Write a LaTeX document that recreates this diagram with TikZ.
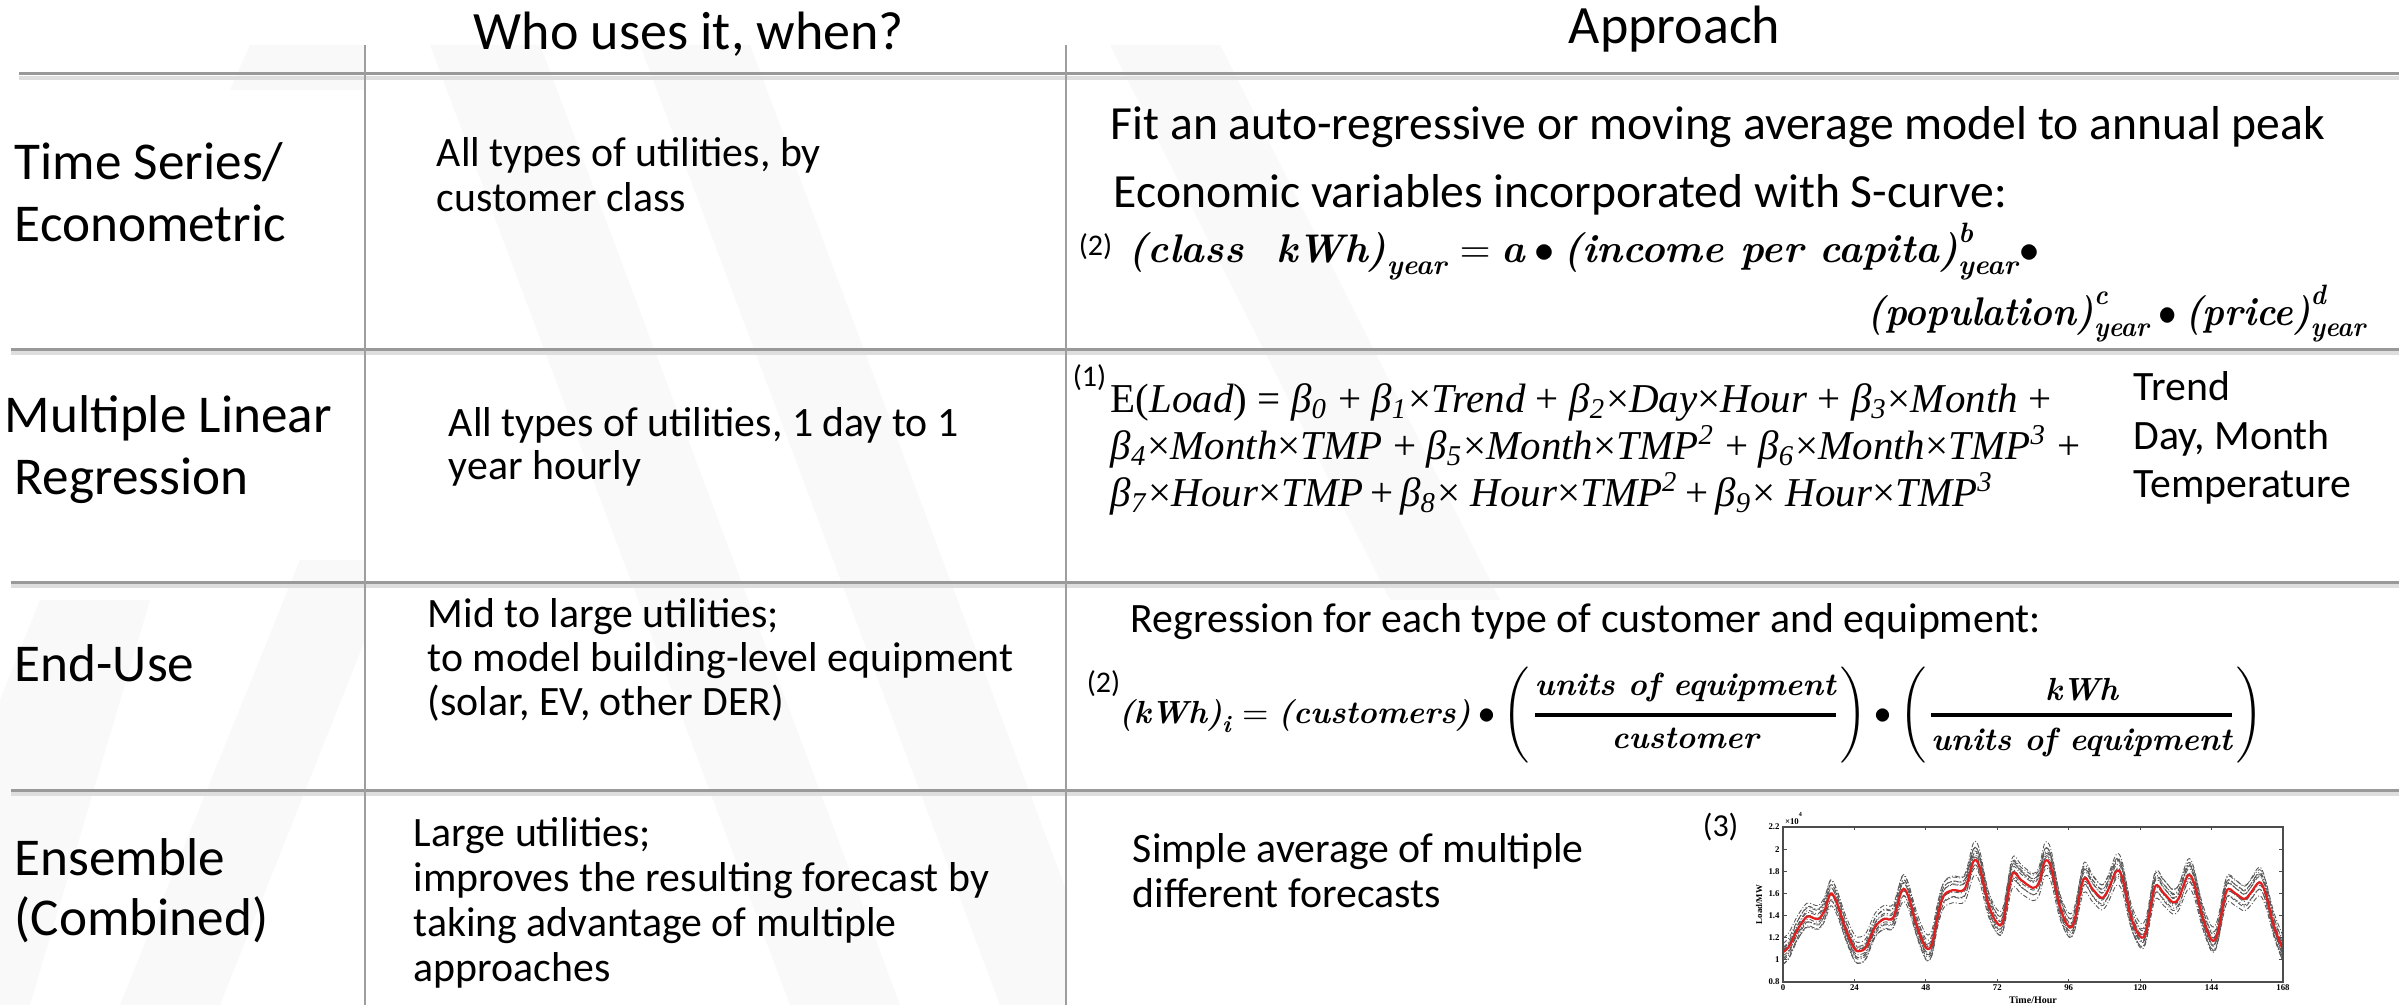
\documentclass[tikz,border=0pt]{standalone}
\usepackage{fontspec}
\usepackage{amsmath}
\newfontfamily\calfont{Carlito}
\newfontfamily\serifmr{Liberation Serif}
\newfontfamily\lmbifont{lmroman10-bolditalic.otf}
\definecolor{loadred}{RGB}{226,30,30}
% bold italic serif used by the scanned-style formulas
\newcommand\fbi[1]{{\lmbifont #1}}
% regression coefficient and power in the load model
\newcommand\bcoef[1]{\textit{β}\textsubscript{\textit{#1}}}
\newcommand\pw[1]{\textsuperscript{\textit{#1}}}
\begin{document}
\begin{tikzpicture}[x=0.25pt,y=-0.25pt,
  hdrtext/.style={font=\calfont\fontsize{13.5}{16}\selectfont, inner sep=0pt, anchor=base west},
  rowlabel/.style={font=\calfont\fontsize{13.3}{16}\selectfont, inner sep=0pt, anchor=base west},
  celltext/.style={font=\calfont\fontsize{10.45}{12.5}\selectfont, inner sep=0pt, anchor=base west},
  apptext/.style={font=\calfont\fontsize{11.9}{14}\selectfont, inner sep=0pt, anchor=base west},
  refmark/.style={font=\calfont\fontsize{7.5}{9}\selectfont, inner sep=0pt, anchor=base west},
  formulaA/.style={font=\fontsize{10}{12}\selectfont, inner sep=0pt, anchor=base west},
  formulaB/.style={font=\serifmr\fontsize{10.25}{12}\selectfont, inner sep=0pt, anchor=base west},
  formulaC/.style={font=\fontsize{8}{10}\selectfont, inner sep=0pt, anchor=base west},
  rowrule/.style={draw=black!40, line width=0.75pt},
  rowshade/.style={draw=black!13, line width=1.1pt},
  colrule/.style={draw=black!38, line width=0.6pt},
  watermark/.style={fill=black!2.5},
  member/.style={draw=black!65, line width=0.22pt, dash pattern=on 1.2pt off 0.5pt on 0.25pt off 0.5pt},
  meanload/.style={draw=loadred, line width=0.55pt},
  chartlabel/.style={font=\serifmr\bfseries\fontsize{2.2}{2.6}\selectfont, inner sep=0.3pt}]

\useasboundingbox (0,0) rectangle (2399,1005);
\fill[white] (0,0) rectangle (2399,1005);

% faint background stripes
\fill[watermark] (430,45) -- (540,45) -- (900,1005) -- (790,1005) -- cycle;
\fill[watermark] (640,45) -- (750,45) -- (1066,890) -- (1066,1005) -- (1000,1005) -- cycle;
\fill[watermark] (1110,45) -- (1220,45) -- (1500,600) -- (1390,600) -- cycle;
\fill[watermark] (0,700) -- (40,600) -- (150,600) -- (30,1005) -- (0,1005) -- cycle;
\fill[watermark] (120,1005) -- (300,560) -- (365,560) -- (365,640) -- (220,1005) -- cycle;
\fill[watermark] (250,45) -- (365,45) -- (365,90) -- (230,90) -- cycle;

% table rules
\foreach \yy/\xs in {74/19, 349/11, 582/11, 790/11} {
  \draw[rowshade] (\xs,\yy+4) -- (2399,\yy+4);
  \draw[rowrule] (\xs,\yy) -- (2399,\yy);
}
\draw[colrule] (365,45) -- (365,1005);
\draw[colrule] (1066,45) -- (1066,1005);

% column headings
\node[hdrtext] (head-who) at (473,50) {Who uses it, when?};
\node[hdrtext] (head-app) at (1568,44) {Approach};

% row labels
\node[rowlabel] (ts-a) at (14,180) {Time Series/};
\node[rowlabel] (ts-b) at (14,242) {Econometric};
\node[rowlabel] (mlr-a) at (4,432) {Multiple Linear};
\node[rowlabel] (mlr-b) at (14,494) {Regression};
\node[rowlabel] (eu-a) at (14,681) {End-Use};
\node[rowlabel] (en-a) at (14,875) {Ensemble};
\node[rowlabel] (en-b) at (14,935) {(Combined)};

% who uses it
\node[celltext] (ts-who-a) at (436,167) {All types of utilities, by};
\node[celltext] (ts-who-b) at (436,211) {customer class};
\node[celltext] (mlr-who-a) at (448,436) {All types of utilities, 1 day to 1};
\node[celltext] (mlr-who-b) at (448,479) {year hourly};
\node[celltext] (eu-who-a) at (427,627) {Mid to large utilities;};
\node[celltext] (eu-who-b) at (427,671) {to model building-level equipment};
\node[celltext] (eu-who-c) at (427,715) {(solar, EV, other DER)};
\node[celltext] (en-who-a) at (413,846) {Large utilities;};
\node[celltext] (en-who-b) at (413,891) {improves the resulting forecast by};
\node[celltext] (en-who-c) at (413,936) {taking advantage of multiple};
\node[celltext] (en-who-d) at (413,981) {approaches};

% approach: time series / econometric
\node[apptext] (ts-app-a) at (1110,140) {Fit an auto-regressive or moving average model to annual peak};
\node[apptext] (ts-app-b) at (1113,208) {Economic variables incorporated with S-curve:};
\node[refmark] (ts-ref) at (1078,255) {(2)};
\node[formulaA] (ts-eq-a) at (1128,263)
  {$\text{\fbi{(class\ \ kWh)}}_{\text{\fbi{year}}} = \text{\fbi{a}} \bullet \text{\fbi{(income per capita)}}^{\text{\fbi{b}}}_{\text{\fbi{year}}} \bullet$};
\node[formulaA, anchor=base east] (ts-eq-b) at (2368,325)
  {\scalebox{0.92}[1]{$\text{\fbi{(population)}}^{\text{\fbi{c}}}_{\text{\fbi{year}}} \bullet \text{\fbi{(price)}}^{\text{\fbi{d}}}_{\text{\fbi{year}}}$}};

% approach: multiple linear regression
\node[refmark] (mlr-ref) at (1072,386) {(1)};
\node[formulaB] (mlr-eq-a) at (1110,412)
  {E(\textit{Load}) = \bcoef{0} + \bcoef{1}×\textit{Trend} + \bcoef{2}×\textit{Day}×\textit{Hour} + \bcoef{3}×\textit{Month} +};
\node[formulaB] (mlr-eq-b) at (1110,459)
  {\bcoef{4}×\textit{Month}×\textit{TMP} + \bcoef{5}×\textit{Month}×\textit{TMP}\pw{2} + \bcoef{6}×\textit{Month}×\textit{TMP}\pw{3} +};
\node[formulaB] (mlr-eq-c) at (1110,506)
  {\bcoef{7}×\textit{Hour}×\textit{TMP}\,+\,\bcoef{8}× \textit{Hour}×\textit{TMP}\pw{2}\,+\,\bcoef{9}× \textit{Hour}×\textit{TMP}\pw{3}};
\node[celltext] (mlr-var-a) at (2133,400) {Trend};
\node[celltext] (mlr-var-b) at (2133,449) {Day, Month};
\node[celltext] (mlr-var-c) at (2133,498) {Temperature};

% approach: end-use
\node[celltext] (eu-app) at (1130,632) {Regression for each type of customer and equipment:};
\node[refmark] (eu-ref) at (1086,692) {(2)};
\node[formulaC] (eu-eq) at (1118,723)
  {$\text{\fbi{(kWh)}}_{\text{\fbi{i}}} = \text{\fbi{(customers)}} \bullet
   \left(\rule[-1.2em]{0pt}{2.6em}\genfrac{}{}{0.9pt}{0}{\text{\fbi{units of equipment}}}{\text{\fbi{customer}}}\right) \bullet
   \left(\rule[-1.2em]{0pt}{2.6em}\genfrac{}{}{0.9pt}{0}{\text{\fbi{kWh}}}{\text{\fbi{units of equipment}}}\right)$};

% approach: ensemble
\node[celltext] (en-app-a) at (1132,862) {Simple average of multiple};
\node[celltext] (en-app-b) at (1132,907) {different forecasts};
\node[refmark, font=\calfont\fontsize{8}{9}\selectfont] (en-ref) at (1702,836) {(3)};

% ensemble forecast chart: hours on x, load in 10^4 MW on y
\begin{scope}[shift={(1783,1070.6)}, x=0.744pt, y=27.68pt]
  \begin{scope}
    \clip (0,0.8) rectangle (168,2.2);
    \foreach \s/\d in {1.00/0.08, 1.05/0.04, 1.10/-0.02, 0.95/-0.05, 1.15/0.10, 0.90/0.00,
                       1.20/0.02, 1.08/-0.08, 0.98/0.12, 1.12/0.06, 0.92/-0.10, 1.18/-0.04} {
      \draw[member, declare function={g(\v)=1.45+\s*(\v-1.45)+\d;}]
        plot[smooth, tension=0.55] coordinates {
        (0,{g(1.07)}) (2,{g(1.12)}) (5,{g(1.28)}) (8,{g(1.39)}) (10,{g(1.38)}) (12,{g(1.37)})
        (14,{g(1.45)}) (16,{g(1.60)}) (18,{g(1.52)}) (21,{g(1.28)}) (24,{g(1.10)}) (26,{g(1.08)})
        (28,{g(1.12)}) (31,{g(1.30)}) (34,{g(1.37)}) (37,{g(1.38)}) (40,{g(1.63)}) (42,{g(1.58)})
        (45,{g(1.30)}) (48,{g(1.11)}) (50,{g(1.14)}) (52,{g(1.40)}) (54,{g(1.58)}) (57,{g(1.63)})
        (61,{g(1.64)}) (64,{g(1.89)}) (66,{g(1.84)}) (69,{g(1.50)}) (72,{g(1.33)}) (74,{g(1.36)})
        (77,{g(1.77)}) (80,{g(1.72)}) (84,{g(1.65)}) (86,{g(1.70)}) (88,{g(1.89)}) (90,{g(1.84)})
        (93,{g(1.48)}) (96,{g(1.30)}) (98,{g(1.36)}) (101,{g(1.73)}) (104,{g(1.64)}) (107,{g(1.56)})
        (109,{g(1.62)}) (112,{g(1.80)}) (114,{g(1.74)}) (117,{g(1.38)}) (120,{g(1.21)}) (122,{g(1.26)})
        (125,{g(1.66)}) (128,{g(1.60)}) (131,{g(1.52)}) (133,{g(1.56)}) (136,{g(1.76)}) (138,{g(1.70)})
        (141,{g(1.38)}) (144,{g(1.18)}) (146,{g(1.24)}) (149,{g(1.62)}) (152,{g(1.60)}) (155,{g(1.55)})
        (157,{g(1.60)}) (160,{g(1.70)}) (162,{g(1.61)}) (165,{g(1.30)}) (168,{g(1.09)})};
    }
    \draw[meanload] plot[smooth, tension=0.55] coordinates {
      (0,1.07) (2,1.12) (5,1.28) (8,1.39) (10,1.38) (12,1.37) (14,1.45) (16,1.60) (18,1.52)
      (21,1.28) (24,1.10) (26,1.08) (28,1.12) (31,1.30) (34,1.37) (37,1.38) (40,1.63) (42,1.58)
      (45,1.30) (48,1.11) (50,1.14) (52,1.40) (54,1.58) (57,1.63) (61,1.64) (64,1.89) (66,1.84)
      (69,1.50) (72,1.33) (74,1.36) (77,1.77) (80,1.72) (84,1.65) (86,1.70) (88,1.89) (90,1.84)
      (93,1.48) (96,1.30) (98,1.36) (101,1.73) (104,1.64) (107,1.56) (109,1.62) (112,1.80) (114,1.74)
      (117,1.38) (120,1.21) (122,1.26) (125,1.66) (128,1.60) (131,1.52) (133,1.56) (136,1.76) (138,1.70)
      (141,1.38) (144,1.18) (146,1.24) (149,1.62) (152,1.60) (155,1.55) (157,1.60) (160,1.70) (162,1.61)
      (165,1.30) (168,1.09)};
  \end{scope}
  \draw[black!70, line width=0.3pt] (0,0.8) rectangle (168,2.2);
  \foreach \h in {24,48,...,144} {
    \draw[black!70, line width=0.25pt] (\h,0.8) -- (\h,0.83) (\h,2.2) -- (\h,2.17);
  }
  \foreach \h in {0,24,...,168} {
    \node[chartlabel, anchor=north] (tick-h\h) at (\h,0.79) {\h};
  }
  \foreach \v/\t in {0.8/0.8, 1/1, 1.2/1.2, 1.4/1.4, 1.6/1.6, 1.8/1.8, 2/2, 2.2/2.2} {
    \draw[black!70, line width=0.25pt] (0,\v) -- (1.5,\v) (168,\v) -- (166.5,\v);
    \node[chartlabel, anchor=east] (tick-v\t) at (-0.5,\v) {\t};
  }
  \node[chartlabel, anchor=south west] (chart-exp) at (0,2.2) {×10\textsuperscript{4}};
  \node[chartlabel, rotate=90] (chart-ylab) at (-8,1.5) {Load/MW};
  \node[chartlabel, font=\serifmr\bfseries\fontsize{2.5}{3}\selectfont, anchor=north] (chart-xlab) at (84,0.69) {Time/Hour};
\end{scope}
\end{tikzpicture}
\end{document}
